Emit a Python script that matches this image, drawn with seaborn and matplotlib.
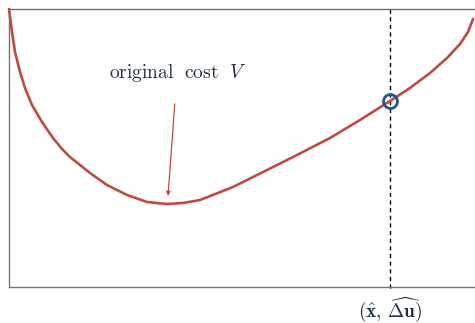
import matplotlib
matplotlib.use("Agg")
import matplotlib.pyplot as plt
import seaborn as sns
import pandas as pd

# Cost curve samples (horizontal position, cost value)
x_vals = [0, 3, 6, 11, 16, 23, 33, 44, 53, 61, 81, 98, 118, 138, 158, 174,
          191, 224, 258, 288, 321, 351, 381, 401, 421, 438, 451, 459, 464]
cost_vals = [278, 255, 235, 215, 199, 182, 165, 149, 138, 130, 114, 102,
             92, 85, 83, 84, 87, 100, 117, 132, 149, 167, 186, 199, 214, 229,
             243, 255, 268]

# Estimate location and its cost
x_hat = 381
cost_at_hat = 186

curve_label = r"$\mathrm{original\ \ cost}\ \ V$"
hat_label = r"$(\hat{\mathbf{x}},\,\widehat{\mathbf{\Delta u}})$"

sns.set_style("white")
plt.rcParams["mathtext.fontset"] = "cm"

curve_color = "#bf4a42"
frame_color = "#8a6a60"
marker_color = "#1f5a8a"
text_color = "#1e2e3e"

fig = plt.figure(figsize=(4.75, 3.23), dpi=100)
ax = fig.add_axes([9 / 475, 36 / 323, 469 / 475, 278 / 323])

df = pd.DataFrame({"x": x_vals, "V": cost_vals})
sns.lineplot(data=df, x="x", y="V", ax=ax, color=curve_color, linewidth=1.9,
             sort=True, clip_on=False)
ax.lines[-1].set_solid_joinstyle("round")

ax.set_xlim(0, 469)
ax.set_ylim(0, 278)

# Dashed marker line at the estimate
ax.plot([x_hat, x_hat], [278, -4], color="black", linestyle=(0, (3, 2.5)),
        linewidth=1.0, clip_on=False, zorder=1)
ax.plot([x_hat], [cost_at_hat], marker="o", markersize=10, markerfacecolor="none",
        markeredgecolor=marker_color, markeredgewidth=2.0, zorder=5)

ax.annotate(curve_label, xy=(159, 91), xytext=(168, 214),
            ha="center", va="center", fontsize=14, color=text_color,
            arrowprops=dict(arrowstyle="-|>", color=curve_color, lw=0.9,
                            mutation_scale=6, shrinkA=12, shrinkB=0))

ax.text(x_hat, -23, hat_label, ha="center", va="center", fontsize=14,
        color=text_color, clip_on=False)

ax.set_xticks([])
ax.set_yticks([])
ax.set_xlabel("")
ax.set_ylabel("")
for name, spine in ax.spines.items():
    spine.set_color(frame_color)
    spine.set_linewidth(1.0)
ax.spines["right"].set_visible(False)

fig.savefig("out.png", dpi=100)
